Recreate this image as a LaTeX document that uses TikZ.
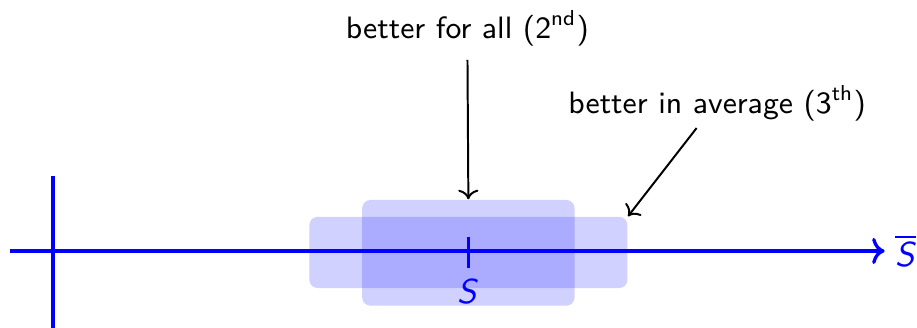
\documentclass[tikz,border=0pt]{standalone}
\usepackage{tikz}
\usetikzlibrary{arrows.meta, positioning}
\renewcommand{\familydefault}{\sfdefault}
\newcommand{\symS}{\textsf{\itshape S}}
\tikzset{
  axis/.style={line width=1pt, blue},
  region/.style={fill=blue, fill opacity=0.18, rounded corners=2.5pt,
                 inner sep=0pt},
  lbl/.style={font=\fontsize{9.4}{11}\selectfont, inner sep=2pt},
  slbl/.style={font=\fontsize{10.5}{12}\selectfont, text=blue, inner sep=2pt},
  arr/.style={->, semithick, black},
}
\begin{document}
\begin{tikzpicture}
  \useasboundingbox (-0.567, -0.823) rectangle (9.236, 2.683);

  % Regionen um S
  \node[region, minimum width=3.40cm, minimum height=0.76cm] (wide) at (4.44, -0.016) {};
  \node[region, minimum width=2.27cm, minimum height=1.13cm] (tall) at (4.44, -0.02) {};

  % Achsen
  \coordinate (xa) at (-0.46, 0);
  \coordinate (xb) at (8.89, 0);
  \draw[axis, ->] (xa) -- (xb);
  \node[slbl, right=1pt of xb] (sbar) {$\overline{\mbox{\symS}}$};
  \draw[axis] (0, 0.80) -- (0, -0.823);

  % Punkt S
  \draw[axis] (4.44, 0.15) -- (4.44, -0.18);
  \node[slbl] (s) at (4.44, -0.43) {\symS};

  % Beschriftungen
  \node[lbl] (all) at (4.43, 2.38) {better for all (2\textsuperscript{nd})};
  \node[lbl] (avg) at (7.10, 1.58) {better in average (3\textsuperscript{th})};

  \draw[arr, shorten <=2pt] (all.south) -- (tall.north);
  \draw[arr] (avg.south -| 6.88, 0) -- (wide.north east);
\end{tikzpicture}
\end{document}
